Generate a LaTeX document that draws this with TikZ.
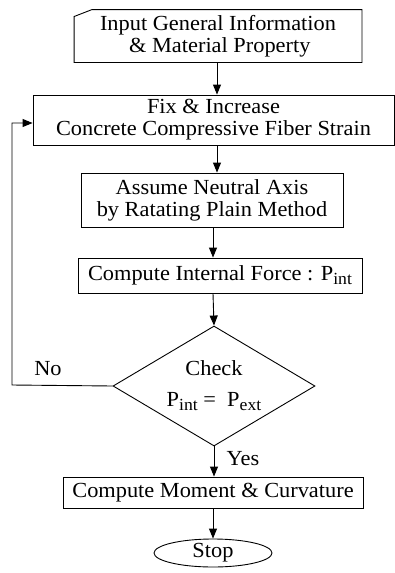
\documentclass[tikz,border=0pt]{standalone}
\usepackage{fontspec}
\setmainfont{Liberation Serif}[FakeStretch=1.04]
\usetikzlibrary{arrows.meta,shapes.geometric,calc}
\newcommand\subtxt[1]{\raisebox{-0.4ex}{\fontsize{17}{17}\selectfont #1}}
\tikzset{
  box/.style={draw, line width=0.9pt, rectangle, align=center, inner sep=0pt},
  arr/.style={line width=0.9pt, -{Triangle[length=10pt,width=8pt]}},
  lbl/.style={inner sep=0pt},
}
\begin{document}
\begin{tikzpicture}[x=1pt,y=-1pt,font=\fontsize{21.5}{22}\selectfont]
\useasboundingbox (0,0) rectangle (395,573);
% input (card)
\node[box, draw=none, minimum width=287pt, minimum height=52pt] (in) at (218,36) {Input General Information\\\,\& Material Property};
\draw[line width=0.9pt] ($(in.north west)+(0,7)$) -- ($(in.north west)+(18,0)$) -- (in.north east) -- (in.south east) -- (in.south west) -- cycle;
% fix
\node[box, minimum width=361pt, minimum height=50pt] (fix) at (213.5,120) {Fix \& Increase\\Concrete Compressive Fiber Strain};
% assume
\node[box, minimum width=262pt, minimum height=54pt] (asm) at (212,200) {Assume Neutral Axis\\by Ratating Plain Method};
% compute internal
\node[box, minimum width=284pt, minimum height=35pt] (cint) at (220,275.5) {Compute Internal Force : P\subtxt{int}};
% diamond
\node[draw, line width=0.9pt, diamond, minimum width=202pt, minimum height=120pt, inner sep=0pt] (dia) at (214,386) {};
\node[lbl] (chk) at (214,368) {Check};
\node[lbl] (peq) at (214,402) {P\subtxt{int} = \ P\subtxt{ext}};
% moment
\node[box, minimum width=300pt, minimum height=31pt] (mom) at (213,492.5) {Compute Moment \& Curvature};
% stop
\node[draw, line width=0.9pt, ellipse, minimum width=118pt, minimum height=28pt, inner sep=0pt] (stop) at (213,553) {Stop};
% labels
\node[lbl] (no) at (48,369) {No};
\node[lbl] (yes) at (243,459) {Yes};
% coordinates
\coordinate (xa) at (217,0);
\coordinate (xb) at (213,0);
\coordinate (fb) at (12,385);
% arrows
\draw[arr] (in.south -| xa) -- (fix.north -| xa);
\draw[arr] (fix.south -| xa) -- (asm.north -| xa);
\draw[arr] (asm.south -| xb) -- (cint.north -| xb);
\draw[arr] (cint.south -| xb) -- (dia.north);
\draw[arr] (dia.south) -- (mom.north -| dia.south);
\draw[arr] (mom.south -| xb) -- (stop.north);
\draw[arr] (dia.west) -- (fb) |- ($(fix.west)+(0,3)$);
\end{tikzpicture}
\end{document}
